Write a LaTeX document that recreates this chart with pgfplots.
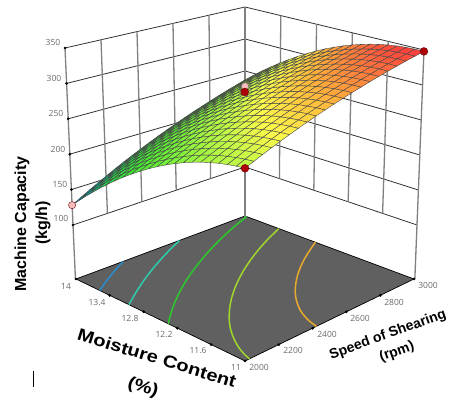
\documentclass[border=0pt]{standalone}
\usepackage{fontspec}
\setmainfont{Open Sans}
\newfontfamily\arb{Liberation Sans}
\usepackage{pgfplots}
\usepackage{pgfplotstable}
\pgfplotsset{compat=1.18}
\definecolor{tickgray}{RGB}{105,105,105}
\definecolor{floorgray}{RGB}{96,96,96}
\definecolor{vgrid}{RGB}{128,128,128}
\definecolor{hgrid}{RGB}{50,50,50}
\definecolor{redpt}{RGB}{176,0,8}
\definecolor{pinkpt}{RGB}{248,190,190}
\definecolor{c1}{RGB}{40,140,205}
\definecolor{c2}{RGB}{45,205,170}
\definecolor{c3}{RGB}{45,200,45}
\definecolor{c4}{RGB}{160,215,45}
\definecolor{c5}{RGB}{232,170,45}
\def\Us{((\thisrow{s}-2000)/1000)}
\def\Vs{((14-\thisrow{m})/3)}
\def\Ws{((\thisrow{z}-100)/250)}
\pgfplotsset{
 /pgfplots/table/proj/.style={
  x expr={73+172*\Us+172*\Vs+\Ws*(-8+8*\Us+8*\Vs-\Us*\Vs)},
  y expr={401-(225-58*\Us+77*\Vs-19*\Us*\Vs-(177-17*\Us+14*\Vs+\Us*\Vs)*\Ws)},
  z expr=0},
 /pgfplots/table/fl/.style={
  x expr={76+169*\Us+169*\Vs},
  y expr={401-(279-63*\Us+82*\Vs-19*\Us*\Vs)},
  z expr=0},
}
\pgfplotstableread{
s m z
3000 14 236.0
2950 14 231.8
2900 14 227.5
2850 14 223.0
2800 14 218.4
2750 14 213.7
2700 14 208.9
2650 14 203.9
2600 14 198.8
2550 14 193.6
2500 14 188.3
2450 14 182.8
2400 14 177.2
2350 14 171.5
2300 14 165.7
2250 14 159.7
2200 14 153.6
2150 14 147.4
2100 14 141.1
2050 14 134.6
2000 14 128.0
3000 13.85 247.3
2950 13.85 243.2
2900 13.85 238.9
2850 13.85 234.6
2800 13.85 230.1
2750 13.85 225.4
2700 13.85 220.7
2650 13.85 215.8
2600 13.85 210.8
2550 13.85 205.7
2500 13.85 200.4
2450 13.85 195.1
2400 13.85 189.6
2350 13.85 183.9
2300 13.85 178.2
2250 13.85 172.3
2200 13.85 166.3
2150 13.85 160.2
2100 13.85 153.9
2050 13.85 147.6
2000 13.85 141.1
3000 13.7 258.0
2950 13.7 254.0
2900 13.7 249.8
2850 13.7 245.5
2800 13.7 241.1
2750 13.7 236.6
2700 13.7 231.9
2650 13.7 227.1
2600 13.7 222.2
2550 13.7 217.2
2500 13.7 212.0
2450 13.7 206.7
2400 13.7 201.3
2350 13.7 195.8
2300 13.7 190.1
2250 13.7 184.3
2200 13.7 178.4
2150 13.7 172.4
2100 13.7 166.2
2050 13.7 159.9
2000 13.7 153.5
3000 13.55 268.1
2950 13.55 264.2
2900 13.55 260.1
2850 13.55 255.9
2800 13.55 251.6
2750 13.55 247.1
2700 13.55 242.5
2650 13.55 237.8
2600 13.55 233.0
2550 13.55 228.1
2500 13.55 223.0
2450 13.55 217.8
2400 13.55 212.5
2350 13.55 207.0
2300 13.55 201.4
2250 13.55 195.7
2200 13.55 189.9
2150 13.55 184.0
2100 13.55 177.9
2050 13.55 171.7
2000 13.55 165.4
3000 13.4 277.6
2950 13.4 273.7
2900 13.4 269.8
2850 13.4 265.6
2800 13.4 261.4
2750 13.4 257.0
2700 13.4 252.6
2650 13.4 247.9
2600 13.4 243.2
2550 13.4 238.3
2500 13.4 233.4
2450 13.4 228.2
2400 13.4 223.0
2350 13.4 217.6
2300 13.4 212.2
2250 13.4 206.5
2200 13.4 200.8
2150 13.4 194.9
2100 13.4 189.0
2050 13.4 182.8
2000 13.4 176.6
3000 13.25 286.5
2950 13.25 282.7
2900 13.25 278.8
2850 13.25 274.8
2800 13.25 270.7
2750 13.25 266.4
2700 13.25 262.0
2650 13.25 257.5
2600 13.25 252.8
2550 13.25 248.0
2500 13.25 243.1
2450 13.25 238.1
2400 13.25 233.0
2350 13.25 227.7
2300 13.25 222.3
2250 13.25 216.8
2200 13.25 211.1
2150 13.25 205.3
2100 13.25 199.4
2050 13.25 193.4
2000 13.25 187.3
3000 13.1 294.8
2950 13.1 291.1
2900 13.1 287.3
2850 13.1 283.4
2800 13.1 279.3
2750 13.1 275.1
2700 13.1 270.8
2650 13.1 266.4
2600 13.1 261.8
2550 13.1 257.1
2500 13.1 252.3
2450 13.1 247.4
2400 13.1 242.3
2350 13.1 237.1
2300 13.1 231.8
2250 13.1 226.4
2200 13.1 220.8
2150 13.1 215.1
2100 13.1 209.3
2050 13.1 203.4
2000 13.1 197.3
3000 12.95 302.5
2950 12.95 298.9
2900 12.95 295.2
2850 12.95 291.3
2800 12.95 287.4
2750 12.95 283.3
2700 12.95 279.0
2650 12.95 274.7
2600 12.95 270.2
2550 12.95 265.6
2500 12.95 260.9
2450 12.95 256.0
2400 12.95 251.1
2350 12.95 246.0
2300 12.95 240.7
2250 12.95 235.4
2200 12.95 229.9
2150 12.95 224.3
2100 12.95 218.6
2050 12.95 212.7
2000 12.95 206.8
3000 12.8 309.6
2950 12.8 306.1
2900 12.8 302.5
2850 12.8 298.7
2800 12.8 294.8
2750 12.8 290.8
2700 12.8 286.7
2650 12.8 282.4
2600 12.8 278.0
2550 12.8 273.5
2500 12.8 268.9
2450 12.8 264.1
2400 12.8 259.2
2350 12.8 254.2
2300 12.8 249.1
2250 12.8 243.8
2200 12.8 238.4
2150 12.8 232.9
2100 12.8 227.3
2050 12.8 221.5
2000 12.8 215.6
3000 12.65 316.1
2950 12.65 312.7
2900 12.65 309.1
2850 12.65 305.5
2800 12.65 301.7
2750 12.65 297.7
2700 12.65 293.7
2650 12.65 289.5
2600 12.65 285.2
2550 12.65 280.8
2500 12.65 276.2
2450 12.65 271.6
2400 12.65 266.8
2350 12.65 261.8
2300 12.65 256.8
2250 12.65 251.6
2200 12.65 246.3
2150 12.65 240.9
2100 12.65 235.3
2050 12.65 229.7
2000 12.65 223.9
3000 12.5 322.0
2950 12.5 318.7
2900 12.5 315.2
2850 12.5 311.6
2800 12.5 307.9
2750 12.5 304.1
2700 12.5 300.1
2650 12.5 296.0
2600 12.5 291.8
2550 12.5 287.5
2500 12.5 283.0
2450 12.5 278.4
2400 12.5 273.7
2350 12.5 268.9
2300 12.5 263.9
2250 12.5 258.8
2200 12.5 253.6
2150 12.5 248.3
2100 12.5 242.8
2050 12.5 237.2
2000 12.5 231.5
3000 12.35 327.3
2950 12.35 324.1
2900 12.35 320.7
2850 12.35 317.2
2800 12.35 313.6
2750 12.35 309.8
2700 12.35 305.9
2650 12.35 301.9
2600 12.35 297.8
2550 12.35 293.6
2500 12.35 289.2
2450 12.35 284.7
2400 12.35 280.1
2350 12.35 275.3
2300 12.35 270.4
2250 12.35 265.4
2200 12.35 260.3
2150 12.35 255.1
2100 12.35 249.7
2050 12.35 244.2
2000 12.35 238.6
3000 12.2 332.0
2950 12.2 328.8
2900 12.2 325.6
2850 12.2 322.1
2800 12.2 318.6
2750 12.2 314.9
2700 12.2 311.2
2650 12.2 307.2
2600 12.2 303.2
2550 12.2 299.0
2500 12.2 294.8
2450 12.2 290.3
2400 12.2 285.8
2350 12.2 281.1
2300 12.2 276.4
2250 12.2 271.4
2200 12.2 266.4
2150 12.2 261.2
2100 12.2 256.0
2050 12.2 250.5
2000 12.2 245.0
3000 12.05 336.1
2950 12.05 333.0
2900 12.05 329.8
2850 12.05 326.5
2800 12.05 323.1
2750 12.05 319.5
2700 12.05 315.8
2650 12.05 312.0
2600 12.05 308.0
2550 12.05 303.9
2500 12.05 299.7
2450 12.05 295.4
2400 12.05 291.0
2350 12.05 286.4
2300 12.05 281.7
2250 12.05 276.9
2200 12.05 271.9
2150 12.05 266.8
2100 12.05 261.6
2050 12.05 256.3
2000 12.05 250.9
3000 11.9 339.6
2950 11.9 336.6
2900 11.9 333.5
2850 11.9 330.3
2800 11.9 326.9
2750 11.9 323.4
2700 11.9 319.8
2650 11.9 316.1
2600 11.9 312.2
2550 11.9 308.2
2500 11.9 304.1
2450 11.9 299.9
2400 11.9 295.5
2350 11.9 291.0
2300 11.9 286.4
2250 11.9 281.7
2200 11.9 276.8
2150 11.9 271.8
2100 11.9 266.7
2050 11.9 261.5
2000 11.9 256.1
3000 11.75 342.5
2950 11.75 339.6
2900 11.75 336.6
2850 11.75 333.4
2800 11.75 330.2
2750 11.75 326.8
2700 11.75 323.2
2650 11.75 319.6
2600 11.75 315.8
2550 11.75 311.9
2500 11.75 307.9
2450 11.75 303.7
2400 11.75 299.5
2350 11.75 295.1
2300 11.75 290.5
2250 11.75 285.9
2200 11.75 281.1
2150 11.75 276.2
2100 11.75 271.2
2050 11.75 266.0
2000 11.75 260.8
3000 11.6 344.8
2950 11.6 342.0
2900 11.6 339.1
2850 11.6 336.0
2800 11.6 332.8
2750 11.6 329.5
2700 11.6 326.1
2650 11.6 322.5
2600 11.6 318.8
2550 11.6 315.0
2500 11.6 311.1
2450 11.6 307.0
2400 11.6 302.8
2350 11.6 298.5
2300 11.6 294.1
2250 11.6 289.5
2200 11.6 284.8
2150 11.6 280.0
2100 11.6 275.1
2050 11.6 270.0
2000 11.6 264.8
3000 11.45 346.5
2950 11.45 343.8
2900 11.45 340.9
2850 11.45 338.0
2800 11.45 334.9
2750 11.45 331.6
2700 11.45 328.3
2650 11.45 324.8
2600 11.45 321.2
2550 11.45 317.5
2500 11.45 313.6
2450 11.45 309.7
2400 11.45 305.6
2350 11.45 301.3
2300 11.45 297.0
2250 11.45 292.5
2200 11.45 287.9
2150 11.45 283.2
2100 11.45 278.3
2050 11.45 273.4
2000 11.45 268.3
3000 11.3 347.6
2950 11.3 345.0
2900 11.3 342.2
2850 11.3 339.3
2800 11.3 336.3
2750 11.3 333.2
2700 11.3 329.9
2650 11.3 326.5
2600 11.3 323.0
2550 11.3 319.4
2500 11.3 315.6
2450 11.3 311.7
2400 11.3 307.7
2350 11.3 303.6
2300 11.3 299.3
2250 11.3 294.9
2200 11.3 290.4
2150 11.3 285.8
2100 11.3 281.0
2050 11.3 276.1
2000 11.3 271.1
3000 11.15 348.1
2950 11.15 345.6
2900 11.15 342.9
2850 11.15 340.1
2800 11.15 337.2
2750 11.15 334.1
2700 11.15 330.9
2650 11.15 327.6
2600 11.15 324.2
2550 11.15 320.7
2500 11.15 317.0
2450 11.15 313.2
2400 11.15 309.3
2350 11.15 305.2
2300 11.15 301.0
2250 11.15 296.7
2200 11.15 292.3
2150 11.15 287.8
2100 11.15 283.1
2050 11.15 278.3
2000 11.15 273.4
3000 11 348.0
2950 11 345.5
2900 11 343.0
2850 11 340.2
2800 11 337.4
2750 11 334.4
2700 11 331.4
2650 11 328.1
2600 11 324.8
2550 11 321.3
2500 11 317.8
2450 11 314.0
2400 11 310.2
2350 11 306.2
2300 11 302.2
2250 11 297.9
2200 11 293.6
2150 11 289.1
2100 11 284.6
2050 11 279.8
2000 11 275.0
}\surfdata
\pgfplotstableread{
s m z
2278 14 22.5
2173 13.85 22.5
2074 13.7 22.5
2000 13.58 22.5
}\contA
\pgfplotstableread{
s m z
2612 14 22.5
2496 13.85 22.5
2388 13.7 22.5
2287 13.55 22.5
2193 13.4 22.5
2105 13.25 22.5
2022 13.1 22.5
2000 13.06 22.5
}\contB
\pgfplotstableread{
s m z
3000 13.97 22.5
2889 13.85 22.5
2766 13.7 22.5
2652 13.55 22.5
2547 13.4 22.5
2449 13.25 22.5
2358 13.1 22.5
2274 12.95 22.5
2196 12.8 22.5
2124 12.65 22.5
2057 12.5 22.5
2000 12.36 22.5
}\contC
\pgfplotstableread{
s m z
3000 13.4 22.5
2883 13.25 22.5
2778 13.1 22.5
2682 12.95 22.5
2594 12.8 22.5
2514 12.65 22.5
2440 12.5 22.5
2373 12.35 22.5
2312 12.2 22.5
2257 12.05 22.5
2207 11.9 22.5
2163 11.75 22.5
2125 11.6 22.5
2092 11.45 22.5
2064 11.3 22.5
2042 11.15 22.5
2026 11 22.5
}\contD
\pgfplotstableread{
s m z
3000 12.75 22.5
2940 12.65 22.5
2855 12.5 22.5
2779 12.35 22.5
2711 12.2 22.5
2651 12.05 22.5
2597 11.9 22.5
2551 11.75 22.5
2512 11.6 22.5
2479 11.45 22.5
2454 11.3 22.5
2435 11.15 22.5
2423 11 22.5
}\contE
\begin{document}
\begin{tikzpicture}
\begin{axis}[
  scale only axis, width=451pt, height=401pt,
  xmin=0, xmax=451, ymin=0, ymax=401, zmin=-1, zmax=1,
  view={0}{90}, hide axis, clip=false,
  colormap={de}{
    rgb255(128pt)=(0,95,175)
    rgb255(150pt)=(0,175,150)
    rgb255(175pt)=(30,215,70)
    rgb255(215pt)=(75,235,50)
    rgb255(250pt)=(135,242,60)
    rgb255(277pt)=(195,248,70)
    rgb255(295pt)=(252,248,75)
    rgb255(315pt)=(255,190,60)
    rgb255(335pt)=(255,120,60)
    rgb255(348pt)=(255,60,60)},
  point meta min=128, point meta max=348,
]
\path (axis cs:0,0,0) rectangle (axis cs:451,401,0);
% floor
\addplot3[draw=black, line width=0.7pt, fill=floorgray] table[fl] {
s m z
2000 14 22.5
3000 14 22.5
3000 11 22.5
2000 11 22.5
2000 14 22.5
};
% wall grid, horizontal lines
\pgfplotsinvokeforeach{100,150,200,250,300,350}{
 \addplot3[hgrid, line width=0.8pt] table[proj,row sep=\\] {s m z\\2000 14 #1\\3000 14 #1\\3000 11 #1\\};
}
% wall grid, vertical lines
\pgfplotsinvokeforeach{2200,2400,2600,2800}{
 \addplot3[vgrid, line width=1.3pt] table[proj,row sep=\\] {s m z\\#1 14 100\\#1 14 350\\};
}
\pgfplotsinvokeforeach{13.4,12.8,12.2,11.6}{
 \addplot3[vgrid, line width=1.3pt] table[proj,row sep=\\] {s m z\\3000 #1 100\\3000 #1 350\\};
}
\addplot3[vgrid, line width=1.3pt] table[proj] {
s m z
2000 14 22.5
2000 14 350
};
\addplot3[vgrid, line width=1.3pt] table[proj] {
s m z
3000 14 22.5
3000 14 350
};
\addplot3[vgrid, line width=1.3pt] table[proj] {
s m z
3000 11 22.5
3000 11 350
};
% contours
\addplot3[c1, line width=1.5pt, smooth] table[fl] {\contA};
\addplot3[c2, line width=1.5pt, smooth] table[fl] {\contB};
\addplot3[c3, line width=1.5pt, smooth] table[fl] {\contC};
\addplot3[c4, line width=1.5pt, smooth] table[fl] {\contD};
\addplot3[c5, line width=1.5pt, smooth] table[fl] {\contE};
% tick marks
\addplot3[only marks, mark=*, mark size=1.2pt, black] table[proj] {
s m z
2000 14 100
2000 14 150
2000 14 200
2000 14 250
2000 14 300
2000 14 350
};
\addplot3[only marks, mark=*, mark size=1.2pt, black] table[fl] {
s m z
2000 14 22.5
2000 13.4 22.5
2000 12.8 22.5
2000 12.2 22.5
2000 11.6 22.5
2000 11 22.5
2200 11 22.5
2400 11 22.5
2600 11 22.5
2800 11 22.5
3000 11 22.5
};
% hidden design point behind the surface
\addplot3[only marks, mark=*, mark size=3.6pt, draw=black!55, fill=pinkpt] table[proj] {
s m z
3000 14 226
};
% response surface
\addplot3[surf, shader=faceted, faceted color=black!72, line width=0.4pt,
  mesh/rows=21, mesh/cols=21, point meta=\thisrow{z}] table[proj] {\surfdata};
% design points
\addplot3[only marks, mark=*, mark size=3.9pt, draw=red!40!black, fill=redpt] table[proj] {
s m z
2000 11 275
2500 12.5 296
3000 11 348
};
\addplot3[only marks, mark=*, mark size=3.6pt, draw=red!45!black, fill=pinkpt] table[proj] {
s m z
2000 14 128
};
% z tick labels
\foreach \vv/\xx/\yy in {350/53/42,300/54/78,250/56/113,200/58/149,150/60/184,100/61/218}{
 \edef\tmp{\noexpand\node[tickgray,font=\noexpand\fontsize{8.5}{10}\noexpand\selectfont,inner sep=0pt] at (axis cs:\xx,401-\yy,0) {\vv};}\tmp
}
\foreach \vv/\xx/\yy in {14/66/286,13.4/97/302,12.8/130/318,12.2/164/334,11.6/198/350,11/236/367,2000/259/367,2200/293/350,2400/327/334,2600/360/318,2800/394/302,3000/428/285}{
 \edef\tmp{\noexpand\node[tickgray,font=\noexpand\fontsize{8.5}{10}\noexpand\selectfont,inner sep=0pt] at (axis cs:\xx,401-\yy,0) {\vv};}\tmp
}
% titles
\node[rotate=90,font=\arb\bfseries\fontsize{16}{18}\selectfont,inner sep=0pt] at (axis cs:22,177,0) {Machine Capacity};
\node[rotate=90,font=\arb\bfseries\fontsize{16}{18}\selectfont,inner sep=0pt] at (axis cs:43,178,0) {(kg/h)};
\node[rotate=-17,xscale=1.18,font=\arb\bfseries\fontsize{17}{20}\selectfont,inner sep=0pt] at (axis cs:157,43,0) {Moisture Content};
\node[rotate=-17,xscale=1.18,font=\arb\bfseries\fontsize{17}{20}\selectfont,inner sep=0pt] at (axis cs:143,13,0) {(\%)};
\node[rotate=20,font=\arb\bfseries\fontsize{14}{17}\selectfont,inner sep=0pt] at (axis cs:388,66,0) {Speed of Shearing};
\node[rotate=20,font=\arb\bfseries\fontsize{14}{17}\selectfont,inner sep=0pt] at (axis cs:397,49,0) {(rpm)};
\draw[black, line width=0.7pt] (axis cs:33.5,30,0) -- (axis cs:33.5,14,0);
\end{axis}
\end{tikzpicture}
\end{document}
